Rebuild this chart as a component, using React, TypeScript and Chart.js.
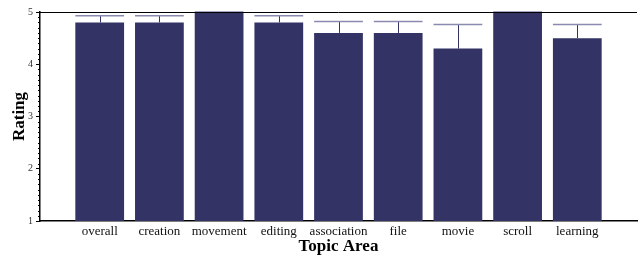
import React, { useEffect, useRef } from "react";
import { Chart, registerables } from "chart.js";

Chart.register(...registerables);

const categories = ["", "overall", "creation", "movement", "editing", "association", "file", "movie", "scroll", "learning", ""];
const ratings = [null, 4.8, 4.8, 5.0, 4.8, 4.6, 4.6, 4.3, 5.0, 4.5, null];
const errorTops = [null, 4.93, 4.93, 5.0, 4.93, 4.82, 4.82, 4.76, 5.0, 4.76, null];
const yTickValues = [1, 2, 3, 4, 5];

const BAR = "#333366";
const CAP = "#8a8ab0";

const frame = {
  id: "frame",
  afterDatasetsDraw(chart: any) {
    const { ctx, chartArea, scales } = chart;
    const y = scales.y;
    const meta = chart.getDatasetMeta(0);
    ctx.save();
    meta.data.forEach((bar: any, i: number) => {
      const v = ratings[i];
      const e = errorTops[i];
      if (v == null || e == null) return;
      const px = bar.x;
      const w = bar.width;
      const yTop = y.getPixelForValue(e);
      const yBar = y.getPixelForValue(v);
      ctx.strokeStyle = BAR;
      ctx.lineWidth = 1;
      ctx.beginPath();
      ctx.moveTo(Math.round(px) + 0.5, yBar);
      ctx.lineTo(Math.round(px) + 0.5, yTop);
      ctx.stroke();
      ctx.strokeStyle = CAP;
      ctx.lineWidth = 1.5;
      ctx.beginPath();
      ctx.moveTo(px - w / 2, yTop);
      ctx.lineTo(px + w / 2, yTop);
      ctx.stroke();
    });
    // top border
    ctx.strokeStyle = "#000";
    ctx.lineWidth = 1;
    ctx.beginPath();
    ctx.moveTo(chartArea.left, Math.round(chartArea.top) + 0.5);
    ctx.lineTo(chartArea.right, Math.round(chartArea.top) + 0.5);
    ctx.stroke();
    // minor ticks
    for (let k = 10; k <= 50; k++) {
      if (k % 10 === 0) continue;
      const py = Math.round(y.getPixelForValue(k / 10)) + 0.5;
      ctx.beginPath();
      ctx.moveTo(chartArea.left - 2, py);
      ctx.lineTo(chartArea.left, py);
      ctx.stroke();
    }
    ctx.restore();
  },
};

export default function App() {
  const ref = useRef<HTMLCanvasElement | null>(null);
  useEffect(() => {
    document.body.style.margin = "0";
    if (!ref.current) return;
    const chart = new Chart(ref.current, {
      type: "bar",
      data: {
        labels: categories,
        datasets: [
          {
            data: ratings as any,
            backgroundColor: BAR,
            borderWidth: 0,
            barPercentage: 49 / 60,
            categoryPercentage: 1,
          },
        ],
      },
      options: {
        responsive: false,
        animation: false,
        layout: { padding: { top: 12, right: 0, left: 0, bottom: 0 } },
        plugins: { legend: { display: false }, tooltip: { enabled: false } },
        scales: {
          x: {
            offset: false,
            grid: { display: false, drawTicks: false },
            border: { display: true, color: "#000", width: 1.5 },
            ticks: {
              padding: 3,
              color: "#111",
              font: { family: "'Liberation Serif', serif", size: 13 },
              maxRotation: 0,
              autoSkip: false,
            },
            title: {
              display: true,
              text: "Topic Area",
              color: "#000",
              font: { family: "'Liberation Serif', serif", size: 17, weight: "bold" },
              padding: { top: 0, bottom: -2 },
            },
            afterFit(scale: any) {
              scale.height = 34;
            },
          },
          y: {
            min: 1,
            max: 5,
            afterBuildTicks(scale: any) {
              scale.ticks = yTickValues.map((v) => ({ value: v }));
            },
            grid: { drawOnChartArea: false, drawTicks: true, tickLength: 4, color: "#000" },
            border: { display: true, color: "#000", width: 1.5 },
            ticks: {
              padding: 3,
              color: "#333",
              font: { family: "'Liberation Serif', serif", size: 10 },
            },
            title: {
              display: true,
              text: "Rating",
              color: "#000",
              font: { family: "'Liberation Serif', serif", size: 17, weight: "bold" },
              padding: { top: 9, bottom: 0 },
            },
            afterFit(scale: any) {
              scale.width = 40;
            },
          },
        },
      },
      plugins: [frame],
    });
    return () => chart.destroy();
  }, []);
  return (
    <div style={{ width: 640, height: 255 }}>
      <canvas ref={ref} width={640} height={255} />
    </div>
  );
}
